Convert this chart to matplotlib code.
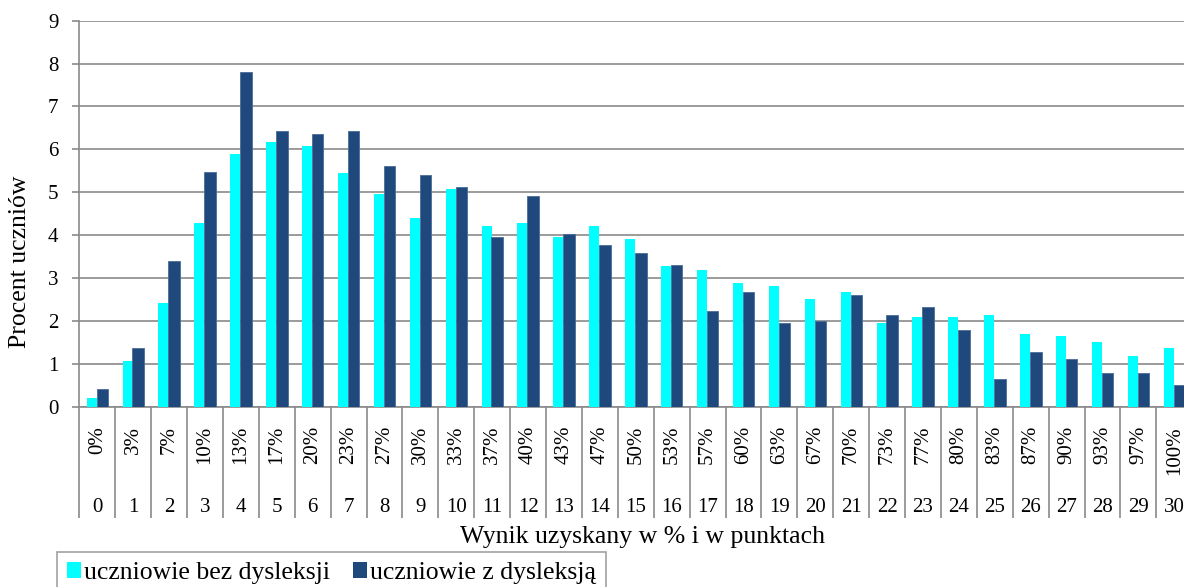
#!/usr/bin/env python3
# wyniki_dysleksja.py

import matplotlib
matplotlib.use("Agg")
import matplotlib.pyplot as plt
import matplotlib.transforms as mtransforms
from matplotlib.patches import Patch
import numpy as np

# points 0..30 and the matching percent of the maximum score
points = list(range(31))
percent_labels = [
    "0%", "3%", "7%", "10%", "13%", "17%", "20%", "23%", "27%", "30%",
    "33%", "37%", "40%", "43%", "47%", "50%", "53%", "57%", "60%", "63%",
    "67%", "70%", "73%", "77%", "80%", "83%", "87%", "90%", "93%", "97%",
    "100%",
]

# percent of students for each score
bez_dysleksji = [
    0.19, 1.05, 2.41, 4.27, 5.90, 6.17, 6.07, 5.44, 4.95, 4.40,
    5.08, 4.22, 4.27, 3.95, 4.22, 3.90, 3.27, 3.18, 2.87, 2.82,
    2.50, 2.68, 1.95, 2.09, 2.09, 2.13, 1.68, 1.64, 1.50, 1.18,
    1.37,
]
z_dysleksja = [
    0.41, 1.36, 3.40, 5.48, 7.80, 6.43, 6.35, 6.43, 5.62, 5.40,
    5.12, 3.95, 4.90, 4.03, 3.76, 3.58, 3.31, 2.23, 2.68, 1.95,
    2.00, 2.59, 2.13, 2.32, 1.78, 0.64, 1.28, 1.10, 0.78, 0.78,
    0.51,
]

W, H = 1184, 587
CYAN = "#00FFFF"
NAVY = "#1F497D"
GRID = "#8a8a8a"
FONT = "Liberation Serif"
FS = 15        # tick labels
FS_BIG = 18.5  # axis titles and legend


def plot(fig, ax):
    x = np.arange(len(points))
    ax.bar(x - 0.295, bez_dysleksji, width=0.28, align="edge",
           color=CYAN, edgecolor="none", zorder=3)
    ax.bar(x - 0.02, z_dysleksja, width=0.32, align="edge",
           color=NAVY, edgecolor="#4a6b98", linewidth=0.6, zorder=3)

    ax.set_xlim(-0.5, len(points) - 0.5)
    ax.set_ylim(0, 9)
    ax.set_yticks(range(10))
    ax.yaxis.grid(True, color=GRID, linewidth=1.2, zorder=0)
    ax.set_axisbelow(True)
    for side in ("top", "right"):
        ax.spines[side].set_visible(False)
    for side in ("left", "bottom"):
        ax.spines[side].set_color(GRID)
        ax.spines[side].set_linewidth(1.2)

    ax.tick_params(axis="y", length=5, width=1.2, color=GRID, pad=10,
                   labelsize=FS)
    for lab in ax.get_yticklabels():
        lab.set_fontfamily(FONT)

    # category separators as long minor ticks
    ax.set_xticks([])
    ax.set_xticks(np.arange(-0.5, len(points)), minor=True)
    ax.tick_params(axis="x", which="minor", length=80, width=1.2,
                   color=GRID, labelbottom=False)

    # two-level category labels
    trans = mtransforms.blended_transform_factory(ax.transData, fig.transFigure)
    for i in x:
        ax.text(i, (H - 426) / H, percent_labels[i], transform=trans,
                rotation=90, ha="center", va="top", fontsize=FS,
                family=FONT, clip_on=False)
        ax.text(i, (H - 507) / H, str(points[i]), transform=trans,
                ha="center", va="center", fontsize=FS, family=FONT,
                clip_on=False)

    fig.text(643 / W, (H - 537) / H, "Wynik uzyskany w % i w punktach",
             ha="center", va="center", fontsize=FS_BIG, family=FONT)
    fig.text(20 / W, (H - 262) / H, "Procent uczniów", rotation=90,
             ha="center", va="center", fontsize=FS_BIG, family=FONT)

    handles = [Patch(facecolor=CYAN, edgecolor="none"),
               Patch(facecolor=NAVY, edgecolor="none")]
    leg = fig.legend(handles, ["uczniowie bez dysleksji", "uczniowie z dysleksją"],
                     loc="upper left", bbox_to_anchor=(57 / W, (H - 552) / H),
                     ncol=2, frameon=True, fancybox=False, borderaxespad=0,
                     handlelength=0.55, handleheight=0.55, handletextpad=0.1,
                     columnspacing=0.9, borderpad=0.4,
                     prop={"family": FONT, "size": FS_BIG})
    leg.get_frame().set_edgecolor(GRID)
    leg.get_frame().set_linewidth(1.2)


def main():
    fig = plt.figure(figsize=(W / 100, H / 100), dpi=100)
    # the plot area runs past the right edge of the picture, as in the source
    ax = fig.add_axes([79.3 / W, (H - 406.5) / H, 1113 / W, 385.8 / H])
    plot(fig, ax)
    fig.savefig("out.png", dpi=100)


if __name__ == "__main__":
    main()
